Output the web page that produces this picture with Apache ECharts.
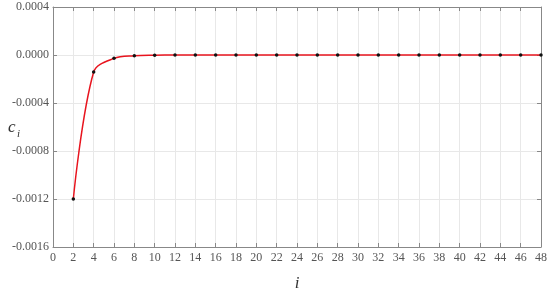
<!DOCTYPE html>
<html>
<head>
    <meta charset="utf-8">
    <title>c_i</title>
    <script src="https://cdn.jsdelivr.net/npm/echarts@6/dist/echarts.min.js"></script>
    <style>
        html, body { margin: 0; padding: 0; background: #fff; }
        #chart1 { width: 550px; height: 297px; }
    </style>
</head>
<body>
<div id="chart1"></div>
<script>
    // data
    var iValues = [2, 4, 6, 8, 10, 12, 14, 16, 18, 20, 22, 24, 26, 28, 30, 32, 34, 36, 38, 40, 42, 44, 46, 48];
    var cValues = [-0.0012, -0.000142, -0.000028, -0.000006, -0.0000015, 0, 0, 0, 0, 0, 0, 0, 0, 0, 0, 0, 0, 0, 0, 0, 0, 0, 0, 0];

    var points = iValues.map(function (x, k) { return [x, cValues[k]]; });

    var labelFont = 'Liberation Serif';
    var gridLine = { show: true, lineStyle: { color: '#e8e8e8', width: 1 } };
    var frame = { show: true, onZero: false, lineStyle: { color: '#888', width: 1 } };

    var myChart1 = echarts.init(document.getElementById('chart1'));
    myChart1.setOption({
        animation: false,
        grid: { left: 53, right: 7, top: 7, bottom: 44 },
        xAxis: [{
            type: 'value', min: 0, max: 48, interval: 2,
            name: 'i', nameLocation: 'middle', nameGap: 28,
            nameTextStyle: { fontFamily: labelFont, fontStyle: 'italic', fontSize: 17, color: '#333' },
            axisLine: frame,
            axisTick: { inside: true, length: 4, lineStyle: { color: '#888' } },
            axisLabel: { fontFamily: labelFont, fontSize: 12, color: '#555', margin: 5 },
            splitLine: gridLine
        }, {
            type: 'value', min: 0, max: 48, interval: 2, position: 'top',
            axisLine: frame,
            axisTick: { inside: true, length: 4, lineStyle: { color: '#888' } },
            axisLabel: { show: false },
            splitLine: { show: false }
        }],
        yAxis: [{
            type: 'value', min: -0.0016, max: 0.0004, interval: 0.0004,
            axisLine: frame,
            axisTick: { inside: true, length: 4, lineStyle: { color: '#888' } },
            axisLabel: {
                fontFamily: labelFont, fontSize: 12, color: '#555', margin: 4,
                formatter: function (v) { return (Math.abs(v) < 1e-9 ? 0 : v).toFixed(4); }
            },
            splitLine: gridLine
        }, {
            type: 'value', min: -0.0016, max: 0.0004, interval: 0.0004, position: 'right',
            axisLine: frame,
            axisTick: { inside: true, length: 4, lineStyle: { color: '#888' } },
            axisLabel: { show: false },
            splitLine: { show: false }
        }],
        graphic: [{
            type: 'text', left: 8, top: 119,
            style: { text: 'c', fontFamily: labelFont, fontStyle: 'italic', fontSize: 17, fill: '#333' }
        }, {
            type: 'text', left: 17, top: 129,
            style: { text: 'i', fontFamily: labelFont, fontStyle: 'italic', fontSize: 11, fill: '#333' }
        }],
        series: [{
            type: 'line',
            data: points,
            smooth: 0.35,
            lineStyle: { color: '#e8141e', width: 1.5 },
            symbol: 'circle',
            symbolSize: 3.5,
            itemStyle: { color: '#111' },
            z: 3
        }]
    });
</script>
</body>
</html>
